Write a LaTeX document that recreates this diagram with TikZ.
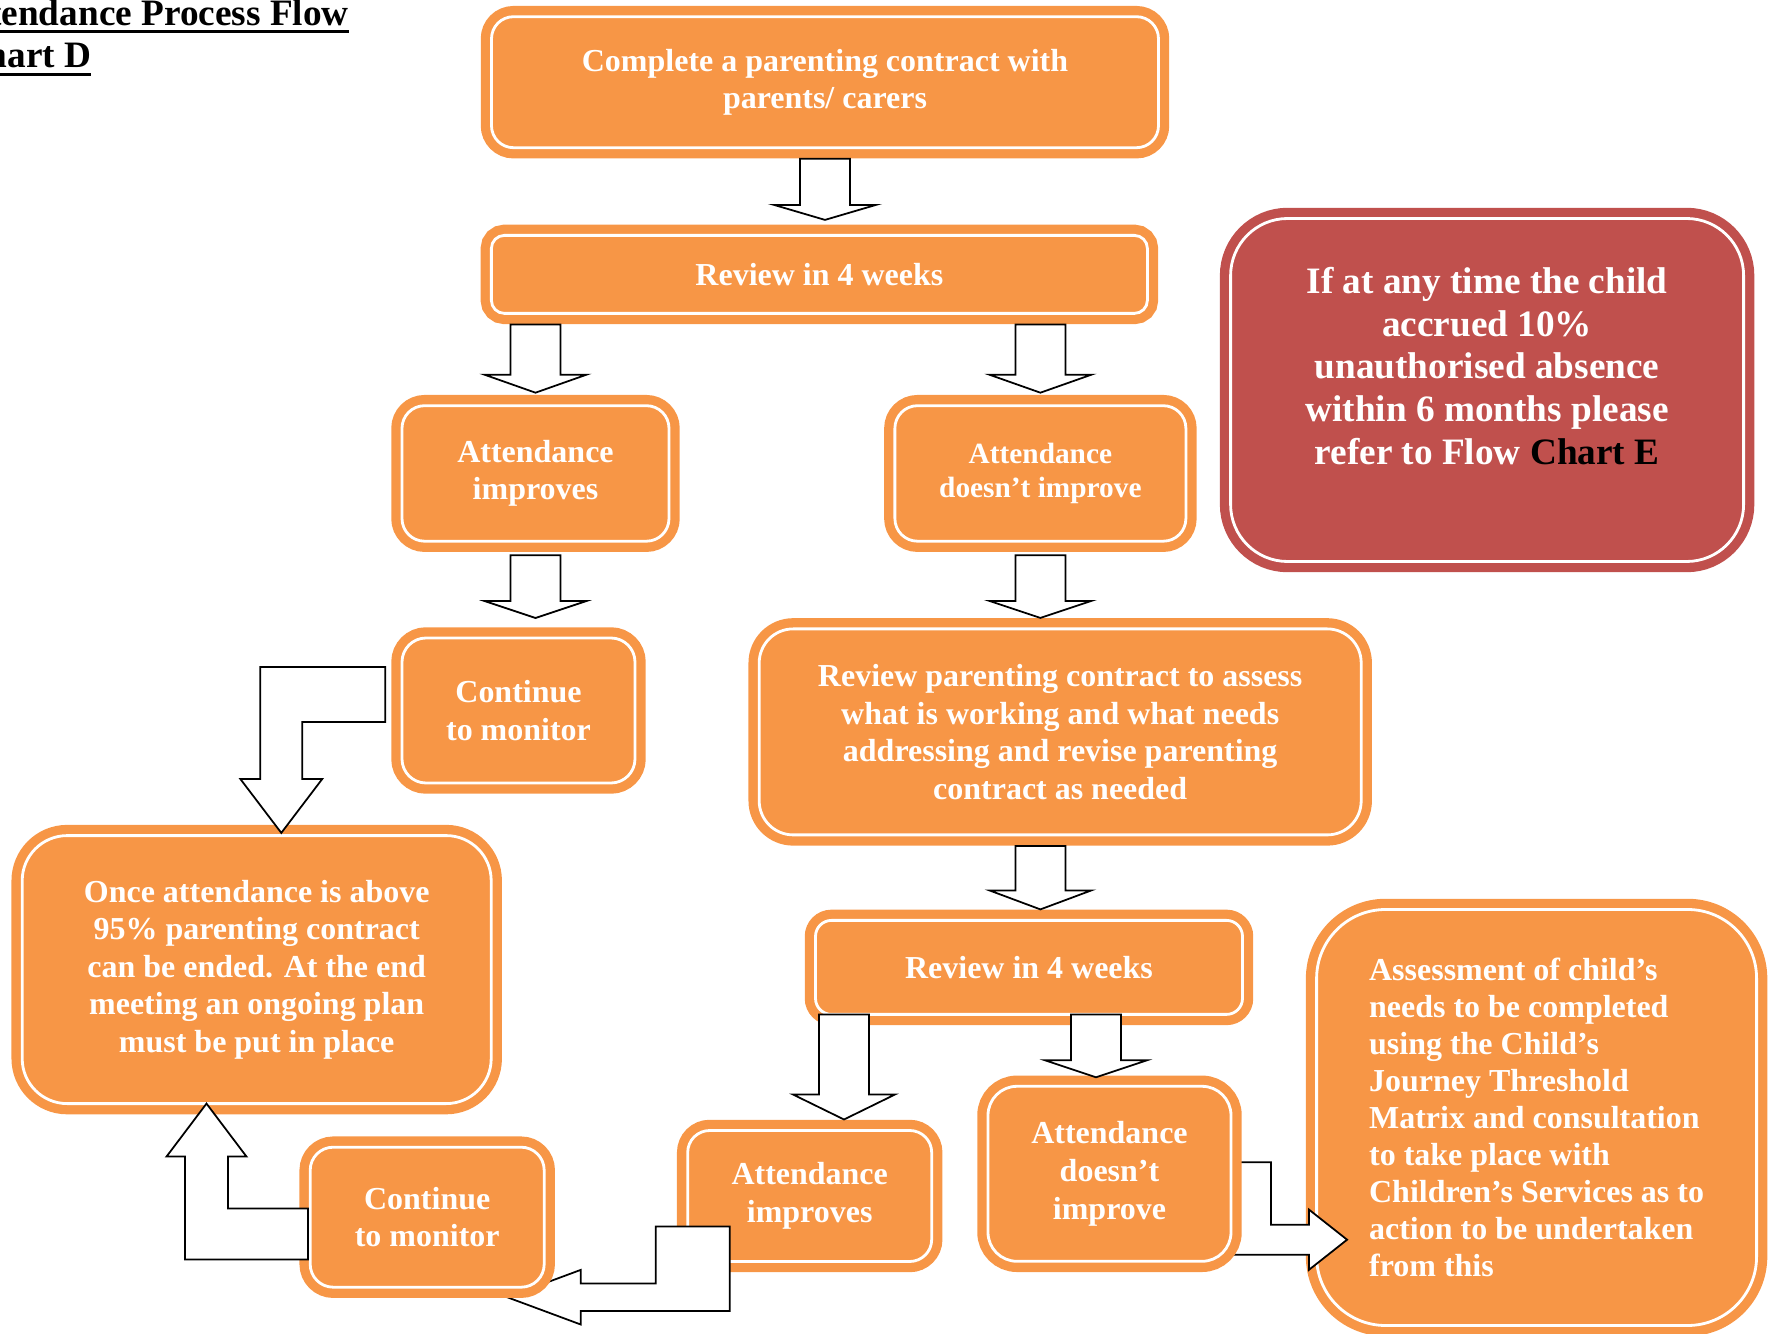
\documentclass[tikz,border=0pt]{standalone}
\usepackage{xcolor}
\usepackage{fontspec}
\setmainfont{Liberation Serif}
\usepackage{tikz}
\usetikzlibrary{positioning,calc}
\definecolor{boxorange}{HTML}{F79646}
\definecolor{boxred}{HTML}{C0504D}

\begin{document}
\begin{tikzpicture}[x=1cm, y=1cm,
    framed/.style = {draw=white, line width=0.8pt, fill=#1,
      preaction={draw=#1, line width=6.1pt}},
    obox/.style = {rectangle, framed=boxorange, rounded corners=#1,
      text=white, font=\bfseries\fontsize{9.1}{10.7}\selectfont,
      align=center, inner sep=0pt, outer sep=0pt},
    obox/.default = 2.2mm,
    blockarrow/.style = {draw=black, fill=white, line width=0.5pt},
    blockdown/.style = {to path={
      ($(\tikztostart)+(-2.5mm,0)$) -- ($(\tikztotarget)+(-2.5mm,#1)$)
      -- ($(\tikztotarget)+(-5.1mm,#1)$) -- (\tikztotarget)
      -- ($(\tikztotarget)+(5.1mm,#1)$) -- ($(\tikztotarget)+(2.5mm,#1)$)
      -- ($(\tikztostart)+(2.5mm,0)$) -- cycle}},
    title/.style = {font=\bfseries\fontsize{10.6}{13.8}\selectfont,
      inner sep=0pt, outer sep=0pt, anchor=base west},
    uline/.style = {line width=0.85pt}]

  \useasboundingbox (0,0) rectangle (17.77,-13.34);

  % titolo, tagliato dal bordo della pagina
  \begin{scope}
    \clip (0,0) rectangle (17.77,-13.34);
    \node[title] (ttl1) at (-0.5,-0.255) {Attendance Process Flow};
    \node[title] (ttl2) at (-0.40,-0.68) {Chart D};
    \draw[uline] ([yshift=-1.7pt]ttl1.base west) -- ([yshift=-1.7pt]ttl1.base east);
    \draw[uline] ([yshift=-1.8pt]ttl2.base west) -- ([yshift=-1.8pt]ttl2.base east);
  \end{scope}

  % riquadri in alto
  \node[obox, minimum width=6.67cm, minimum height=1.31cm] (pc) at (8.25,-0.822)
    {Complete a parenting contract with\\parents/ carers};          % contratto
  \node[obox=1.3mm, minimum width=6.56cm, minimum height=0.78cm,
    below=0.877cm of pc, xshift=-0.056cm] (rv1) {Review in 4 weeks}; % prima revisione
  \coordinate (a1s) at ($(pc.south)+(0,-1.1mm)$);
  \coordinate (a1t) at ($(pc.south |- rv1.north)+(0,1.55mm)$);
  \draw[blockarrow] (a1s) to[blockdown=1.5mm] (a1t);

  \node[obox=2.26mm, minimum width=2.67cm, minimum height=1.355cm,
    below=0.923cm of rv1, xshift=-2.839cm] (imp1) {Attendance\\improves};
  \node[obox=2.26mm, minimum width=2.91cm, minimum height=1.355cm,
    below=0.923cm of rv1, xshift=2.21cm,
    font=\bfseries\fontsize{8.35}{9.7}\selectfont] (noimp1) {Attendance\\doesn’t improve};
  \coordinate (a2s) at ($(imp1.north |- rv1.south)+(0,-1.1mm)$);
  \coordinate (a2t) at ($(imp1.north)+(0,1.3mm)$);
  \coordinate (a3s) at ($(noimp1.north |- rv1.south)+(0,-1.1mm)$);
  \coordinate (a3t) at ($(noimp1.north)+(0,1.3mm)$);
  \draw[blockarrow] (a2s) to[blockdown=1.8mm] (a2t);
  \draw[blockarrow] (a3s) to[blockdown=1.8mm] (a3t);

  % ramo sinistro: la frequenza migliora
  \node[obox=2.4mm, minimum width=2.33cm, minimum height=1.45cm,
    below=0.968cm of imp1, xshift=-0.17cm] (mon1) {Continue\\to monitor};
  \node[obox=3.4mm, minimum width=6.02cm, minimum height=2.06cm,
    below=0.877cm of noimp1, xshift=0.198cm] (rpc)
    {Review parenting contract to assess\\what is working and what needs\\addressing and revise parenting\\contract as needed};
  \coordinate (a4s) at ($(imp1.south)+(0,-1.4mm)$);
  \coordinate (a4t) at ($(imp1.south |- mon1.north)+(0,2mm)$);
  \coordinate (a5s) at ($(noimp1.south)+(0,-1.4mm)$);
  \coordinate (a5t) at ($(noimp1.south |- rpc.north)+(0,1.1mm)$);
  \draw[blockarrow] (a4s) to[blockdown=1.7mm] (a4t);
  \draw[blockarrow] (a5s) to[blockdown=1.7mm] (a5t);

  \node[obox=4.5mm, minimum width=4.69cm, minimum height=2.68cm,
    below=0.526cm of mon1, xshift=-2.618cm] (fin)
    {Once attendance is above\\95\% parenting contract\\can be ended. At the end\\meeting an ongoing plan\\must be put in place};
  \draw[blockarrow] ($(mon1.west)+(-0.167,0.436)$) -- ++(-1.25,0) -- ++(0,-1.12)
    -- ++(-0.2,0) -- ++(0.41,-0.54) -- ++(0.41,0.54) -- ++(-0.2,0)
    -- ++(0,0.57) -- ++(0.83,0) -- cycle;                            % verso la chiusura

  % ramo destro: seconda revisione
  \node[obox=1.6mm, minimum width=4.27cm, minimum height=0.94cm,
    below=0.855cm of rpc, xshift=-0.312cm] (rv2) {Review in 4 weeks};
  \coordinate (a6s) at ($(noimp1.south |- rpc.south)+(0,-1.1mm)$);
  \coordinate (a6t) at ($(noimp1.south |- rv2.north)+(0,1.1mm)$);
  \draw[blockarrow] (a6s) to[blockdown=1.9mm] (a6t);

  \node[obox, minimum width=2.44cm, minimum height=1.31cm,
    below=1.161cm of rv2, xshift=-2.193cm] (imp2) {Attendance\\improves};
  \coordinate (a7s) at ($(rv2.south)+(-1.85,0)$);
  \coordinate (a7t) at ($(a7s |- imp2.north)+(0,1.1mm)$);
  \draw[blockarrow] (a7s) to[blockdown=2.5mm] (a7t);

  \node[obox=6.9mm, minimum width=4.40cm, minimum height=4.16cm,
    right=0.741cm of rv2, yshift=-1.501cm, align=left,
    font=\bfseries\fontsize{9.1}{10.5}\selectfont] (asm)
    {Assessment of child’s\\needs to be completed\\using the Child’s\\Journey Threshold\\Matrix and consultation\\to take place with\\Children’s Services as to\\action to be undertaken\\from this};
  \draw[blockarrow] ($(asm.west)+(-0.855,-0.448)$) -- ++(0.40,0) -- ++(0,-0.624)
    -- ++(0.38,0) -- ++(0,0.15) -- ++(0.38,-0.30) -- ++(-0.38,-0.30)
    -- ++(0,0.15) -- ++(-0.78,0) -- cycle;                           % verso la valutazione

  \node[obox=2.9mm, minimum width=2.43cm, minimum height=1.75cm,
    below=0.719cm of rv2, xshift=0.805cm] (noimp2) {Attendance\\doesn’t\\improve};
  \coordinate (a8s) at ($(rv2.south)+(0.67,0)$);
  \coordinate (a8t) at ($(a8s |- noimp2.north)+(0,0.9mm)$);
  \draw[blockarrow] (a8s) to[blockdown=1.7mm] (a8t);

  \draw[blockarrow] ($(imp2.west)+(-0.32,-0.305)$) -- ++(0.74,0) -- ++(0,-0.844)
    -- ++(-1.49,0) -- ++(0,-0.136) -- ++(-0.736,0.273) -- ++(0.736,0.273)
    -- ++(0,-0.136) -- ++(0.75,0) -- cycle;                          % verso il monitoraggio

  \node[obox=2.3mm, minimum width=2.34cm, minimum height=1.40cm,
    below=0.436cm of fin, xshift=1.705cm] (mon2) {Continue\\to monitor};
  \draw[blockarrow] ($(mon2.west)+(-0.022,0.086)$) -- ++(-0.80,0) -- ++(0,0.52)
    -- ++(0.185,0) -- ++(-0.40,0.53) -- ++(-0.40,-0.53) -- ++(0.185,0)
    -- ++(0,-1.03) -- ++(1.23,0) -- cycle;                           % di nuovo alla chiusura

  % avviso in rosso
  \node[rectangle, framed=boxred, rounded corners=5.7mm, inner sep=0pt, outer sep=0pt,
    minimum width=5.13cm, minimum height=3.43cm,
    right=0.832cm of rv1, yshift=-1.156cm] (ref) {};
  \node[text=white, font=\bfseries\fontsize{10.6}{12.2}\selectfont, align=center,
    inner sep=0pt] (reftxt) at ($(ref.center)+(0,2.4mm)$)
    {If at any time the child\\accrued 10\%\\unauthorised absence\\within 6 months please\\refer to Flow \textcolor{black}{Chart E}};
\end{tikzpicture}
\end{document}
